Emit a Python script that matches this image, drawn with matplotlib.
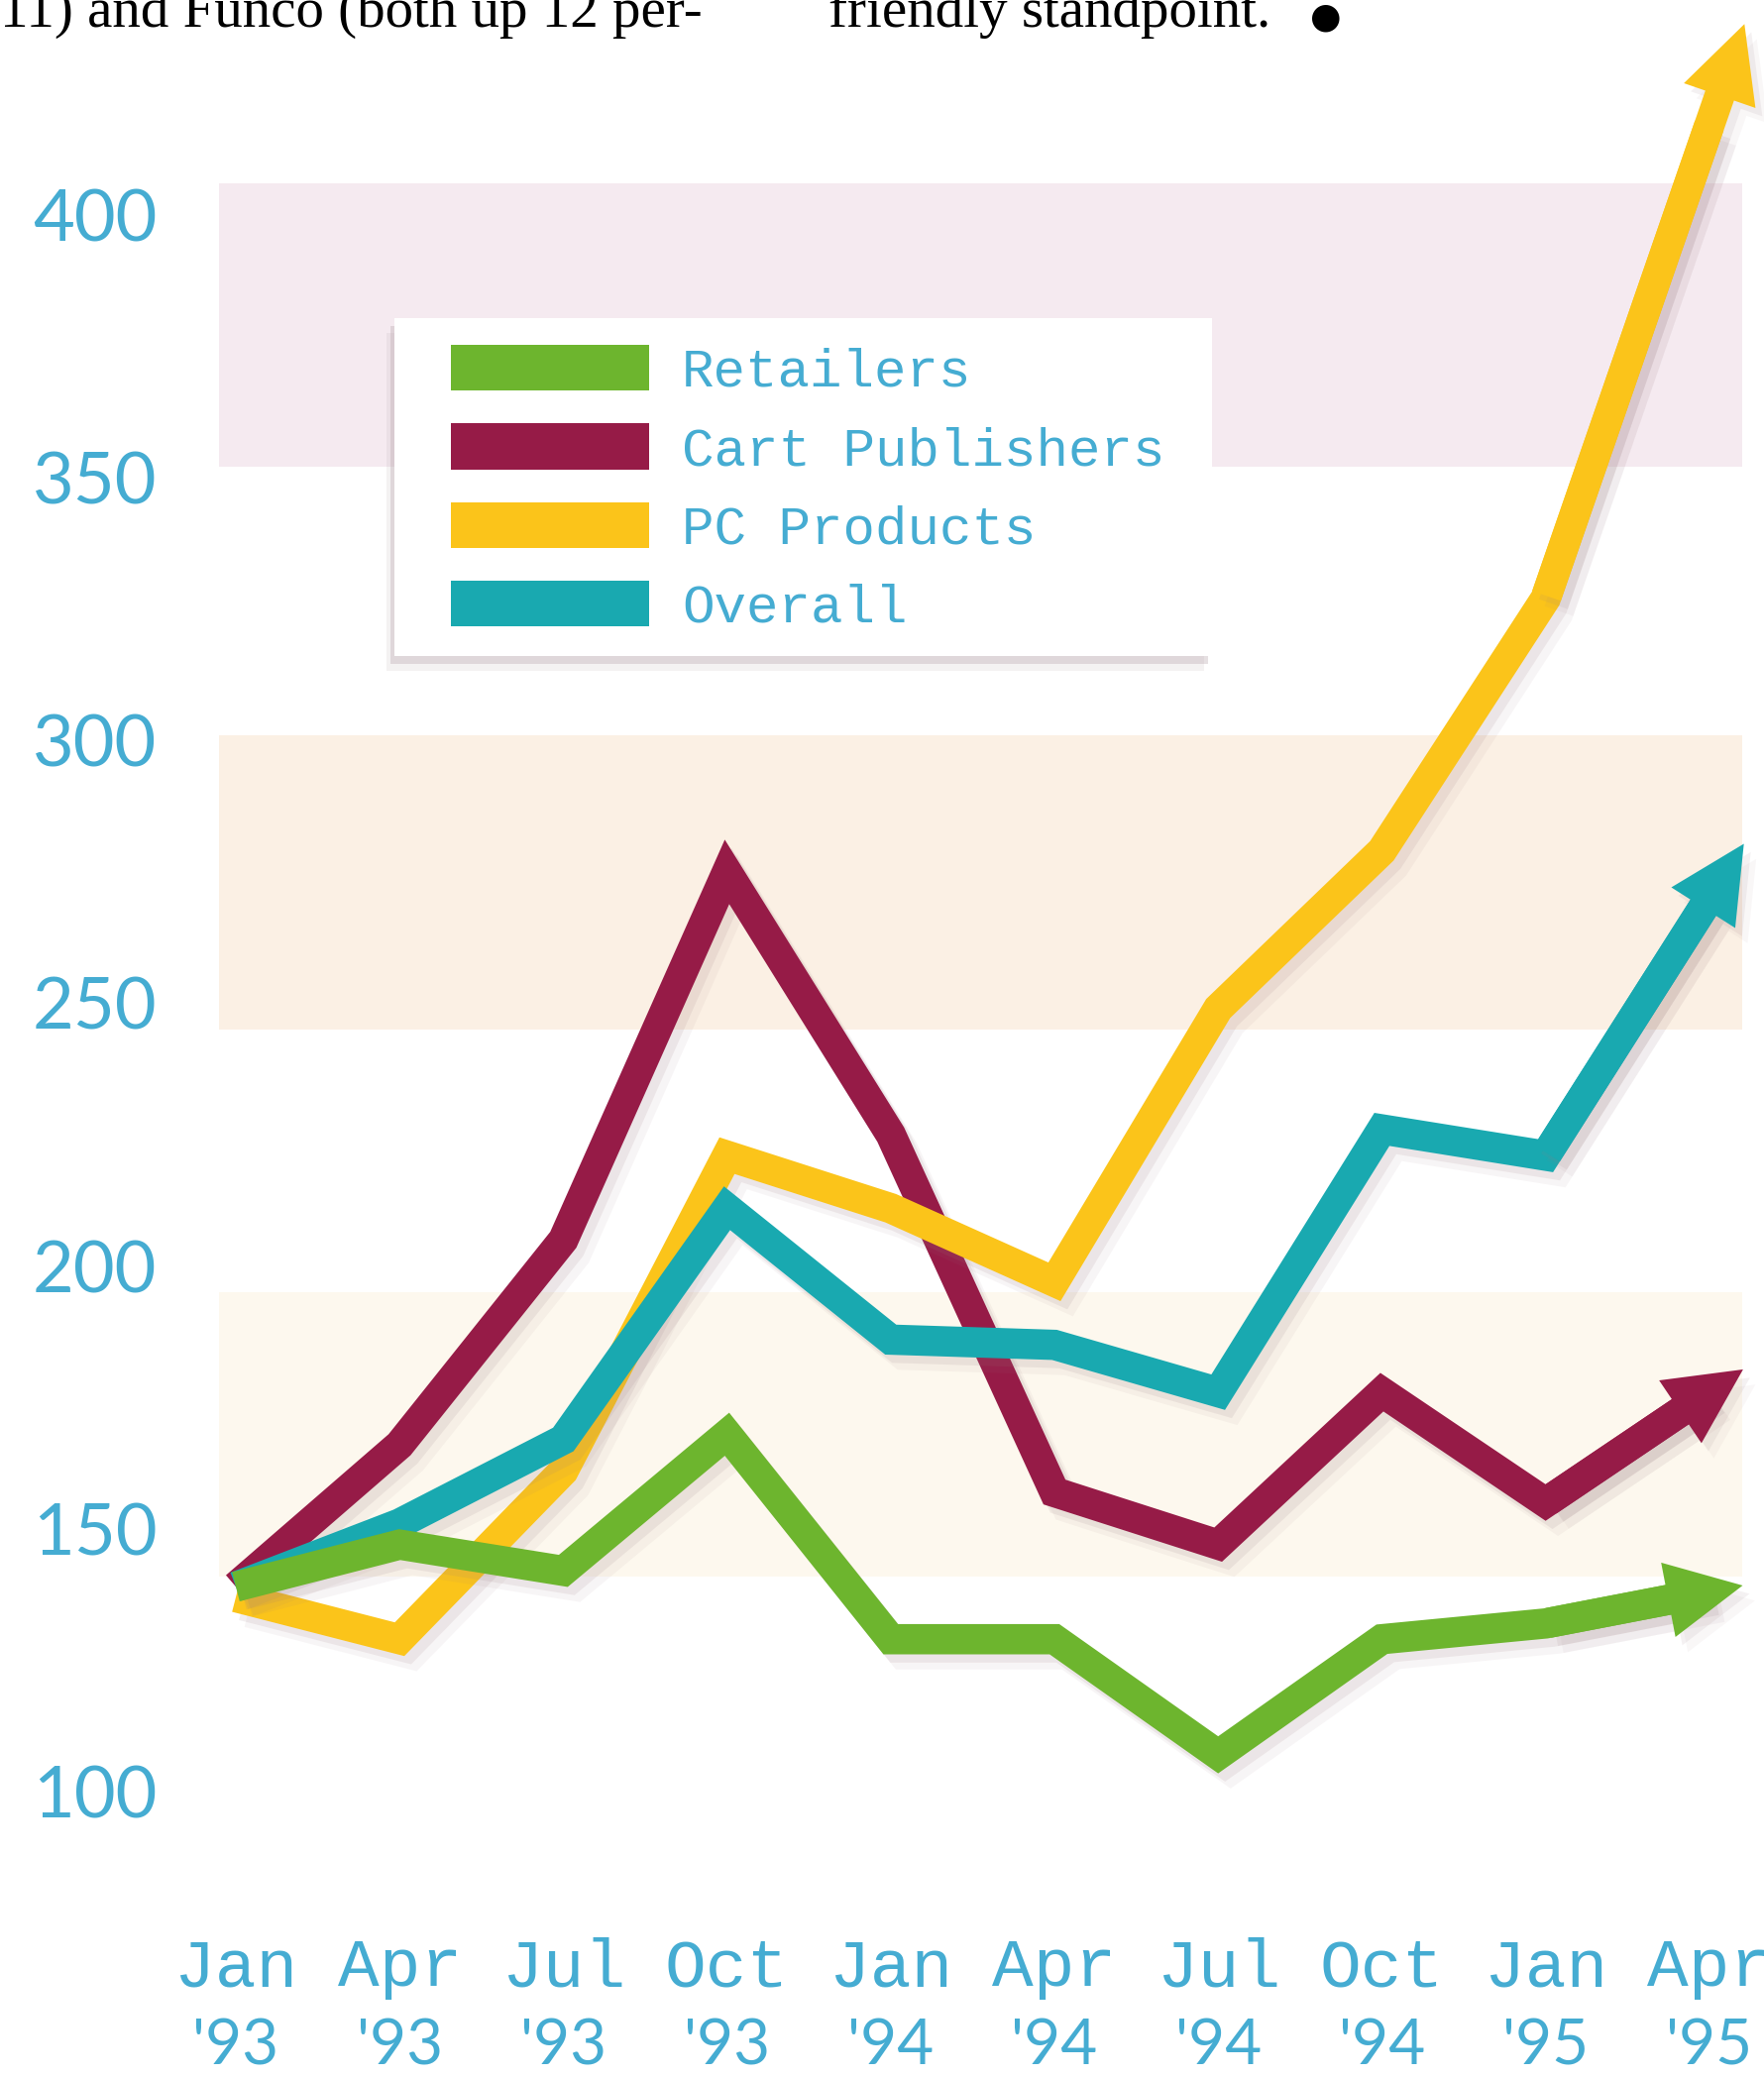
import matplotlib
matplotlib.use("Agg")
import matplotlib.pyplot as plt
import matplotlib.patheffects as pe
from matplotlib.patches import Patch, FancyArrowPatch, Rectangle

# quarters along the bottom
months = ["Jan", "Apr", "Jul", "Oct", "Jan", "Apr", "Jul", "Oct", "Jan", "Apr"]
years = ["'93", "'93", "'93", "'93", "'94", "'94", "'94", "'94", "'95", "'95"]

# index values
retailers = [139, 147, 142, 168, 129, 129, 107, 129, 132, 138]
cart_publishers = [139, 166, 205, 275, 225, 157, 147, 176, 155, 176]
pc_products = [137, 129, 161, 221, 211, 197, 249, 279, 327, 417]
overall = [139, 151, 167, 211, 186, 185, 176, 226, 221, 270]

names = ["Retailers", "Cart Publishers", "PC Products", "Overall"]
colors = ["#6db52e", "#961b47", "#fbc41a", "#19a9b0"]
yticks = [100, 150, 200, 250, 300, 350, 400]

# pale background bands (low, high, colour)
bands = [(141, 195, "#fdf8ee"), (245, 301, "#fbf0e4"), (352, 406, "#f5eaf0")]

text_blue = "#45acd2"

fig = plt.figure(figsize=(17.81, 20.96), dpi=100)
ax = fig.add_axes([200 / 1781, 1 - 1860 / 2096, 1 - 200 / 1781, 1710 / 2096])
ax.set_xlim(-0.23, 9.34)
ax.set_ylim(90.2, 412.6)
ax.patch.set_alpha(0)
for s in ax.spines.values():
    s.set_visible(False)

for lo, hi, c in bands:
    ax.fill_between([-0.1, 9.2], lo, hi, color=c, lw=0, zorder=0)

line_fx = [pe.SimpleLineShadow(offset=(5, -6), shadow_color="#9a7a80", alpha=0.12),
           pe.SimpleLineShadow(offset=(9, -11), shadow_color="#9a7a80", alpha=0.07),
           pe.Normal()]
patch_fx = [pe.SimplePatchShadow(offset=(5, -6), shadow_rgbFace="#9a7a80", alpha=0.10),
            pe.SimplePatchShadow(offset=(9, -11), shadow_rgbFace="#9a7a80", alpha=0.06),
            pe.Normal()]

data = {"Retailers": retailers, "Cart Publishers": cart_publishers,
        "PC Products": pc_products, "Overall": overall}
draw_order = ["Cart Publishers", "PC Products", "Overall", "Retailers"]

lw = 22
ext = 0.22  # how far the arrow tip runs past the last quarter
for z, name in enumerate(draw_order):
    vals = data[name]
    c = colors[names.index(name)]
    xs = list(range(len(vals)))
    ax.plot(xs, vals, color=c, lw=lw, solid_joinstyle="miter",
            solid_capstyle="butt", zorder=3 + z, path_effects=line_fx, clip_on=False)
    n = len(vals) - 1
    tip = (n + ext, vals[n] + ext * (vals[n] - vals[n - 1]))
    arr = FancyArrowPatch((n - 1, vals[n - 1]), tip,
                          arrowstyle="simple,head_length=0.55,head_width=0.55,"
                                     "tail_width=%.3f" % (lw / 100),
                          mutation_scale=100, color=c, lw=0, zorder=3 + z,
                          clip_on=False, path_effects=patch_fx)
    ax.add_patch(arr)

ax.set_yticks(yticks)
ax.set_yticklabels([str(v) for v in yticks])
ax.tick_params(axis="y", length=0, pad=30, labelsize=52, labelcolor=text_blue)
for lbl in ax.get_yticklabels():
    lbl.set_family("Lato")

ax.set_xticks(range(len(months)))
ax.set_xticklabels(months, family="Liberation Mono", fontsize=50)
ax.tick_params(axis="x", length=0, pad=68, labelcolor=text_blue)
for i, yr in enumerate(years):
    ax.text(i, -0.12, yr, transform=ax.get_xaxis_transform(), ha="center",
            va="center", family="Lato", fontsize=46, color=text_blue)

# white legend card with a soft shadow
card = Rectangle((398 / 1781, 1 - 662 / 2096), 825 / 1781, 341 / 2096,
                 transform=fig.transFigure, facecolor="white", edgecolor="none",
                 zorder=5,
                 path_effects=[pe.SimplePatchShadow(offset=(-3, -6), shadow_rgbFace="#b8a8ad", alpha=0.35),
                               pe.SimplePatchShadow(offset=(-6, -11), shadow_rgbFace="#b8a8ad", alpha=0.15),
                               pe.Normal()])
fig.patches.append(card)

handles = [Patch(facecolor=c, edgecolor="none") for c in colors]
leg = fig.legend(handles, names, loc="upper left",
                 bbox_to_anchor=(455 / 1781, 1 - 348 / 2096),
                 prop={"family": "Liberation Mono", "size": 39},
                 labelcolor=text_blue, handlelength=3.7, handleheight=0.94,
                 handletextpad=0.6, labelspacing=0.49, borderpad=0,
                 borderaxespad=0, frameon=False)
leg.set_zorder(20)

# cut-off magazine text at the very top
fig.text(0.0, 1 - 27 / 2096, "11) and Funco (both up 12 per-", family="Liberation Serif",
         fontsize=41, va="baseline", color="black")
fig.text(836 / 1781, 1 - 27 / 2096, "friendly standpoint.", family="Liberation Serif",
         fontsize=41, va="baseline", color="black")
fig.text(1322 / 1781, 1 - 27 / 2096, "\u25cf", fontsize=26, va="baseline", color="black")

fig.savefig("out.png", dpi=100)
